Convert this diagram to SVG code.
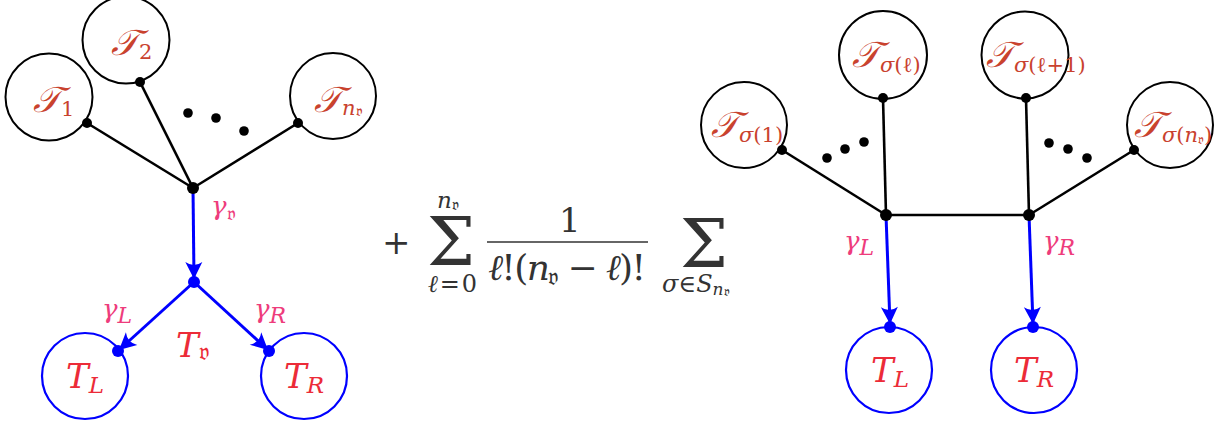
<svg xmlns="http://www.w3.org/2000/svg" width="1215" height="425" viewBox="0 0 1215 425">
<style>
.tc{fill:none;stroke:#000;stroke-width:2}
.bc{fill:none;stroke:#0000ff;stroke-width:2.2}
.e{stroke:#000;stroke-width:2.6;fill:none}
.be{stroke:#0000ff;stroke-width:3;fill:none}
.d{fill:#000}
.bd{fill:#0000ff}
.cal{font-family:'DejaVu Serif',serif;font-style:italic;fill:#c9422e;font-size:36px}
.cs{font-size:21px;font-style:italic}
.up{font-style:normal}
.tr{font-family:'DejaVu Serif',serif;font-style:italic;fill:#ec2b38;font-size:34px}
.g{font-family:'DejaVu Serif',serif;font-style:italic;fill:#ee3c7c;font-size:26px}
.m{font-family:'DejaVu Serif',serif;fill:#333}
.mi{font-family:'DejaVu Serif',serif;font-style:italic;fill:#333}
</style>
<defs>
<marker id="ar" markerUnits="userSpaceOnUse" markerWidth="24" markerHeight="24" viewBox="-20 -10 24 20" refX="0" refY="0" orient="auto">
<path d="M0,0 L-17,-8.5 Q-11,0 -17,8.5 Z" fill="#0000ff"/>
</marker>
</defs>
<rect width="1215" height="425" fill="#fff"/>
<g id="connectors">
<line class="e" x1="87" y1="123" x2="193" y2="188"/>
<line class="e" x1="140" y1="82" x2="193" y2="188"/>
<line class="e" x1="298" y1="123" x2="193" y2="188"/>
<line class="be" x1="193" y1="188" x2="194" y2="279" marker-end="url(#ar)"/>
<line class="be" x1="194" y1="282" x2="119" y2="350" marker-end="url(#ar)"/>
<line class="be" x1="194" y1="282" x2="268" y2="350" marker-end="url(#ar)"/>
<line class="e" x1="782" y1="150" x2="886" y2="215"/>
<line class="e" x1="883" y1="98" x2="886" y2="215"/>
<line class="e" x1="886" y1="215" x2="1029" y2="215"/>
<line class="e" x1="1026" y1="98" x2="1029" y2="215"/>
<line class="e" x1="1134" y1="150" x2="1029" y2="215"/>
<line class="be" x1="886" y1="215" x2="890" y2="324" marker-end="url(#ar)"/>
<line class="be" x1="1029" y1="215" x2="1033" y2="324" marker-end="url(#ar)"/>
</g>
<g id="T1"><circle class="tc" cx="49" cy="97" r="43.5"/><circle class="d" cx="87" cy="123" r="5"/><text class="cal" x="33" y="112">𝒯<tspan class="cs up" font-size="22" dy="4">1</tspan></text></g>
<g id="T2"><circle class="tc" cx="126" cy="40" r="43.5"/><circle class="d" cx="140" cy="82" r="5"/><text class="cal" x="111" y="55">𝒯<tspan class="cs up" font-size="22" dy="4">2</tspan></text></g>
<g id="Tn"><circle class="tc" cx="333" cy="96" r="43"/><circle class="d" cx="298" cy="123" r="5"/><text class="cal" x="314" y="112">𝒯<tspan font-size="21" dy="3">n</tspan><tspan font-size="15" dy="1" class="up">𝔳</tspan></text></g>
<g id="dots1"><circle class="d" cx="188" cy="113" r="4.8"/><circle class="d" cx="216" cy="118" r="4.8"/><circle class="d" cx="244" cy="131" r="4.8"/></g>
<g id="v"><circle class="d" cx="193" cy="188" r="6"/><text class="g" x="211" y="215">γ<tspan font-size="20" dy="5" class="up">𝔳</tspan></text></g>
<g id="vb"><circle class="bd" cx="194" cy="282" r="6"/><text class="tr" x="176" y="357">T<tspan font-size="24" dy="3" class="up">𝔳</tspan></text><text class="g" x="102" y="318">γ<tspan font-size="22" dy="5">L</tspan></text><text class="g" x="254" y="318">γ<tspan font-size="22" dy="5">R</tspan></text></g>
<g id="TL"><circle class="bc" cx="85" cy="376" r="43"/><circle class="bd" cx="118" cy="351" r="6"/><text class="tr" x="66" y="388">T<tspan font-size="23" dy="5">L</tspan></text></g>
<g id="TR"><circle class="bc" cx="304" cy="376" r="43"/><circle class="bd" cx="269" cy="351" r="6"/><text class="tr" x="284" y="388">T<tspan font-size="23" dy="5">R</tspan></text></g>
<g id="formula">
<text class="m" x="382" y="254" font-size="34">+</text>
<text class="m" x="427" y="265" font-size="68">Σ</text>
<text class="mi" x="437" y="208" font-size="23">n<tspan font-size="16" dy="2" class="up">𝔳</tspan></text>
<text class="mi" x="428" y="292" font-size="24" textLength="49" lengthAdjust="spacing">ℓ<tspan class="up">=0</tspan></text>
<text class="m" x="559" y="232" font-size="34">1</text>
<line x1="487" y1="242" x2="648" y2="242" stroke="#333" stroke-width="1.6"/>
<text class="mi" x="488" y="280" font-size="36" textLength="158" lengthAdjust="spacing">ℓ<tspan class="up">!(</tspan>n<tspan font-size="24" dy="5" class="up">𝔳</tspan><tspan dy="-5" class="up"> − </tspan>ℓ<tspan class="up">)!</tspan></text>
<text class="m" x="680" y="267" font-size="68">Σ</text>
<text class="mi" x="662" y="292" font-size="24">σ<tspan class="up">∈</tspan>S<tspan font-size="17" dy="3">n</tspan><tspan font-size="13" dy="1" class="up">𝔳</tspan></text>
</g>
<g id="Ts1"><circle class="tc" cx="744" cy="125" r="43"/><circle class="d" cx="782" cy="150" r="5"/><text class="cal" x="711" y="137">𝒯<tspan class="cs" dy="5">σ</tspan><tspan class="cs up">(1)</tspan></text></g>
<g id="Tsl"><circle class="tc" cx="883" cy="55" r="44"/><circle class="d" cx="883" cy="98" r="5"/><text class="cal" x="852" y="67">𝒯<tspan class="cs" dy="5">σ</tspan><tspan class="cs up">(ℓ)</tspan></text></g>
<g id="Tsl1"><circle class="tc" cx="1025" cy="55" r="43.5"/><circle class="d" cx="1026" cy="98" r="5"/><text class="cal" x="986" y="67">𝒯<tspan class="cs" font-size="17" dy="5">σ</tspan><tspan class="cs up" font-size="17">(ℓ+1)</tspan></text></g>
<g id="Tsn"><circle class="tc" cx="1170" cy="125" r="43"/><circle class="d" cx="1134" cy="150" r="5"/><text class="cal" x="1134" y="137">𝒯<tspan class="cs" font-size="20" dy="5">σ</tspan><tspan class="cs up" font-size="20">(</tspan><tspan class="cs" font-size="20">n</tspan><tspan font-size="13" dy="2" class="up">𝔳</tspan><tspan class="cs up" font-size="20" dy="-2">)</tspan></text></g>
<g id="dots2"><circle class="d" cx="827" cy="158" r="4.8"/><circle class="d" cx="845" cy="149" r="4.8"/><circle class="d" cx="864" cy="142" r="4.8"/><circle class="d" cx="1049" cy="143" r="4.8"/><circle class="d" cx="1068" cy="149" r="4.8"/><circle class="d" cx="1087" cy="158" r="4.8"/></g>
<g id="nL"><circle class="d" cx="886" cy="215" r="6"/><text class="g" x="844" y="250">γ<tspan font-size="22" dy="5">L</tspan></text></g>
<g id="nR"><circle class="d" cx="1029" cy="215" r="6"/><text class="g" x="1043" y="250">γ<tspan font-size="22" dy="5">R</tspan></text></g>
<g id="TL2"><circle class="bc" cx="889" cy="370" r="43"/><circle class="bd" cx="890" cy="327" r="6"/><text class="tr" x="871" y="382">T<tspan font-size="23" dy="5">L</tspan></text></g>
<g id="TR2"><circle class="bc" cx="1034" cy="370" r="43"/><circle class="bd" cx="1033" cy="327" r="6"/><text class="tr" x="1014" y="382">T<tspan font-size="23" dy="5">R</tspan></text></g>
</svg>
